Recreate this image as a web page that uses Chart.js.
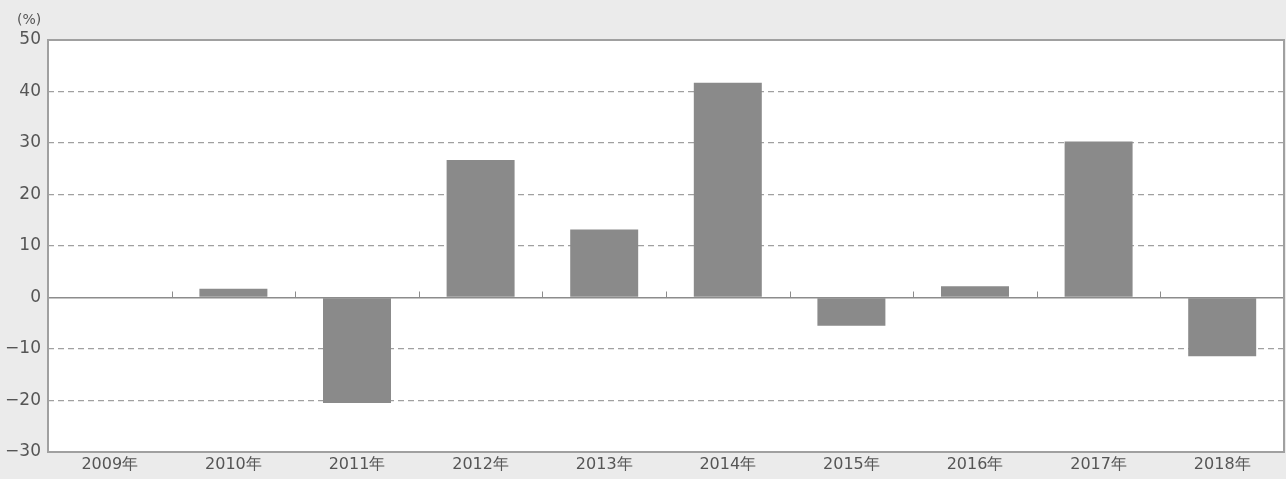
<!DOCTYPE html>
<html>
<head>
<meta charset="utf-8">
<script src="https://cdn.jsdelivr.net/npm/chart.js@4"></script>
<style>
  body { margin: 0; background: #ebebeb; }
  canvas { display: block; }
</style>
</head>
<body>
<canvas id="growthChart" width="1286" height="479"></canvas>
<script>
const years = ["2009年", "2010年", "2011年", "2012年", "2013年", "2014年", "2015年", "2016年", "2017年", "2018年"];
const growth = [0, 1.7, -20.5, 26.7, 13.2, 41.7, -5.5, 2.2, 30.3, -11.4];
const unitLabel = "(%)";
const yMin = -30;
const yMax = 50;
const yStep = 10;

// grey page, white plot area, frame, unit label and little ticks on the zero line
const plotBackground = {
  id: "plotBackground",
  beforeDraw(chart) {
    const { ctx, chartArea } = chart;
    ctx.save();
    ctx.fillStyle = "#ebebeb";
    ctx.fillRect(0, 0, chart.width, chart.height);
    ctx.fillStyle = "#ffffff";
    ctx.fillRect(chartArea.left, chartArea.top, chartArea.right - chartArea.left, chartArea.bottom - chartArea.top);
    ctx.restore();
  },
  afterDatasetsDraw(chart) {
    const { ctx, scales, chartArea } = chart;
    const zero = scales.y.getPixelForValue(0);
    ctx.save();
    ctx.strokeStyle = "#8c8c8c";
    ctx.lineWidth = 1;
    for (let i = 1; i < years.length; i++) {
      const x = Math.round((scales.x.getPixelForValue(i - 1) + scales.x.getPixelForValue(i)) / 2) + 0.5;
      ctx.beginPath();
      ctx.moveTo(x, zero - 6);
      ctx.lineTo(x, zero);
      ctx.stroke();
    }
    // frame round the plot
    ctx.strokeStyle = "#a0a0a0";
    ctx.lineWidth = 2;
    ctx.strokeRect(chartArea.left, chartArea.top, chartArea.right - chartArea.left, chartArea.bottom - chartArea.top);
    // unit label
    ctx.fillStyle = "#555555";
    ctx.font = "14px 'DejaVu Sans'";
    ctx.textAlign = "left";
    ctx.textBaseline = "middle";
    ctx.fillText(unitLabel, 17, 20);
    ctx.restore();
  }
};

const ctx = document.getElementById("growthChart").getContext("2d");
const chart = new Chart(ctx, {
  type: "bar",
  data: {
    labels: years,
    datasets: [
      {
        data: growth,
        backgroundColor: "#8a8a8a",
        borderWidth: 0,
        barPercentage: 0.55,
        categoryPercentage: 1,
      },
    ],
  },
  options: {
    responsive: false,
    animation: false,
    layout: { padding: { top: 40, right: 2, bottom: 1, left: 0 } },
    plugins: {
      legend: { display: false },
      tooltip: { enabled: false },
    },
    scales: {
      x: {
        grid: { display: false, drawTicks: false },
        border: { display: false },
        ticks: {
          color: "#555555",
          font: { family: "DejaVu Sans", size: 16, lineHeight: 1 },
          padding: 5,
        },
      },
      y: {
        min: yMin,
        max: yMax,
        afterFit(scale) { scale.width = 48; },
        afterBuildTicks(scale) {
          const t = [];
          for (let v = yMin; v <= yMax; v += yStep) t.push({ value: v });
          scale.ticks = t;
        },
        border: {
          display: false,
          // dashed grid except the zero line
          dash: (c) => (c.tick && c.tick.value === 0 ? [] : [6, 4]),
        },
        grid: {
          drawTicks: false,
          color: (c) => (c.tick.value === 0 ? "#8c8c8c" : "#a0a0a0"),
          lineWidth: (c) => (c.tick.value === 0 ? 1.5 : 1.3),
        },
        ticks: {
          color: "#555555",
          font: { family: "DejaVu Sans", size: 17 },
          padding: 7,
          callback: (v) => (v < 0 ? "\u2212" + Math.abs(v) : String(v)),
        },
      },
    },
  },
  plugins: [plotBackground],
});
</script>
</body>
</html>
